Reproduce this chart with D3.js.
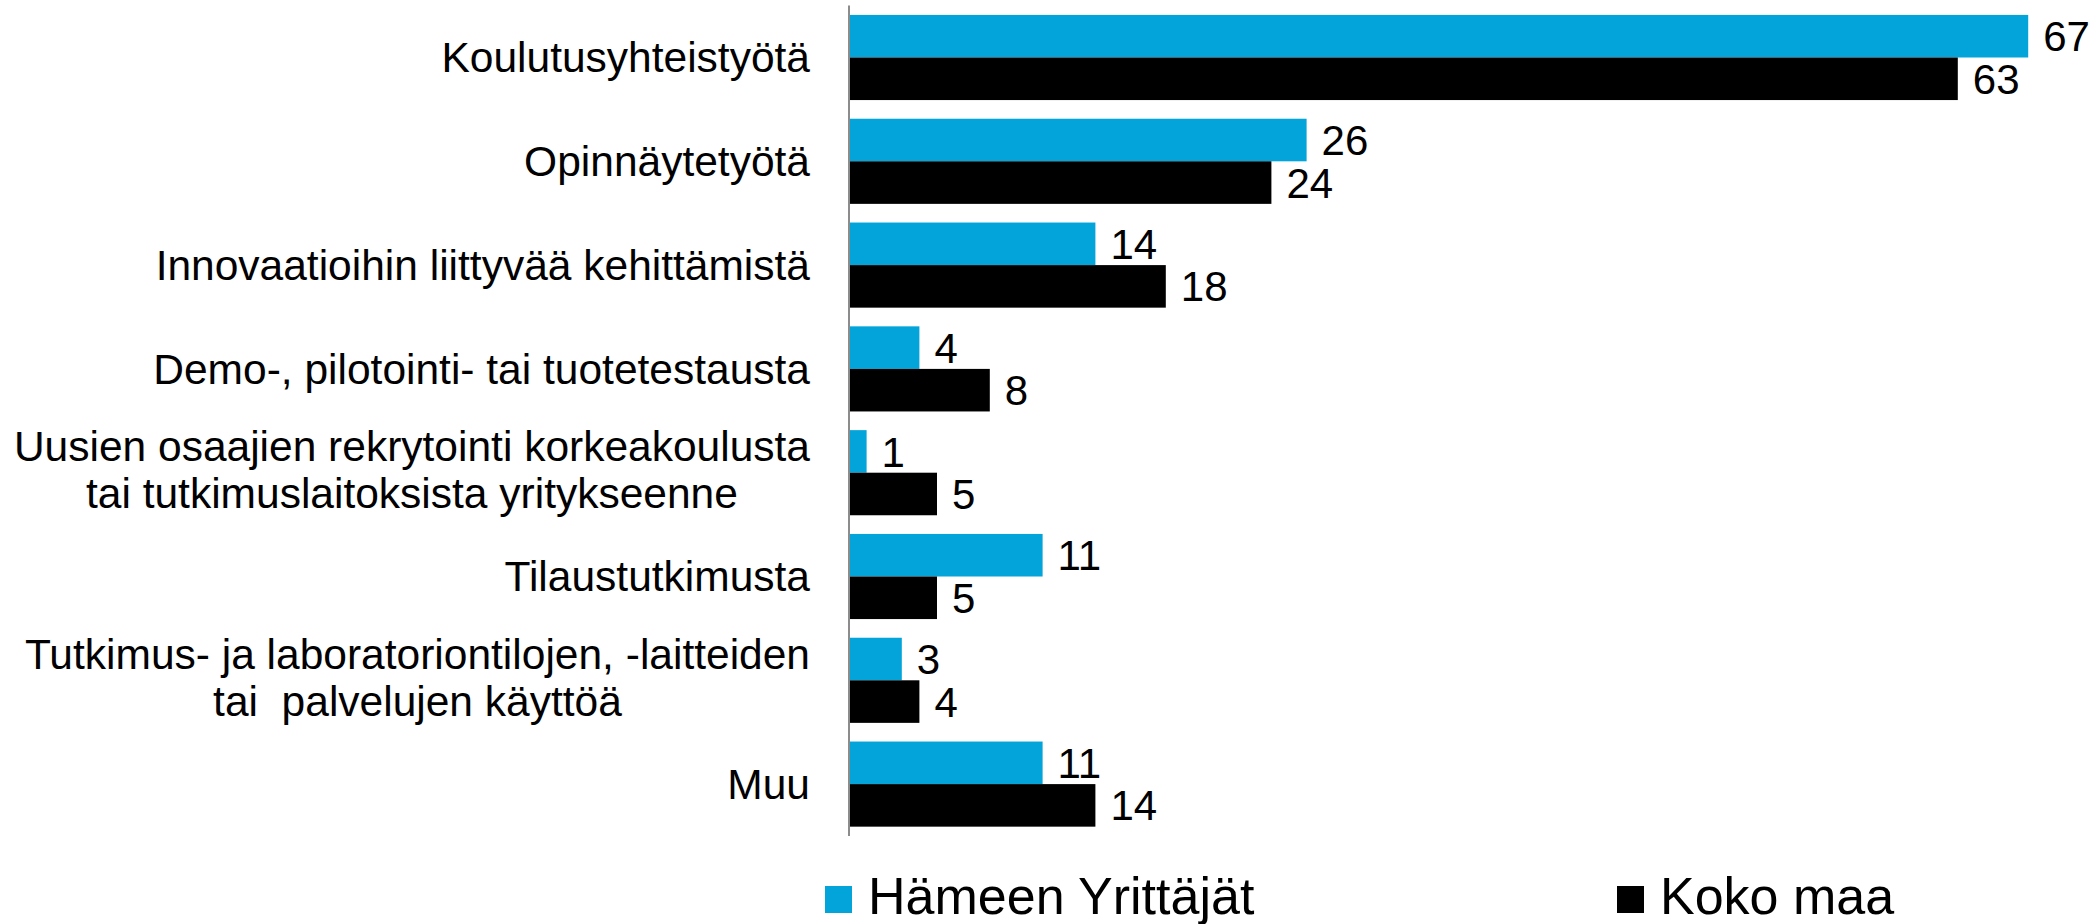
<!DOCTYPE html>
<html>
<head>
<meta charset="utf-8">
<script src="https://cdn.jsdelivr.net/npm/d3@7"></script>
<style>
  html, body { margin: 0; padding: 0; background: #ffffff; }
  svg { display: block; font-family: "Liberation Sans", Arial, sans-serif; }
</style>
</head>
<body>
<svg id="chart" width="2093" height="924"></svg>
<script>

// Data

const categories = [
  [ "Koulutusyhteistyötä" ],
  [ "Opinnäytetyötä" ],
  [ "Innovaatioihin liittyvää kehittämistä" ],
  [ "Demo-, pilotointi- tai tuotetestausta" ],
  [ "Uusien osaajien rekrytointi korkeakoulusta", "tai tutkimuslaitoksista yritykseenne" ],
  [ "Tilaustutkimusta" ],
  [ "Tutkimus- ja laboratoriontilojen, -laitteiden", "tai  palvelujen käyttöä" ],
  [ "Muu" ]
];

const seriesNames = [ "Hämeen Yrittäjät", "Koko maa" ];
const hameValues = [ 67, 26, 14, 4, 1, 11, 3, 11 ];
const kokoMaaValues = [ 63, 24, 18, 8, 5, 5, 4, 14 ];
const seriesColors = [ "#02a4da", "#000000" ];

const xMax = 70;

// Scales

const svg = d3.select( "#chart" );

const axisX = 849;

const x = d3.scaleLinear()
  .domain( [ 0, xMax ] )
  .range( [ axisX, axisX + xMax * 17.6 ] );

const y = d3.scaleBand()
  .domain( d3.range( categories.length ) )
  .range( [ 5.6, 836 ] )
  .paddingInner( 0.18 )
  .paddingOuter( 0.09 );

const ySeries = d3.scaleBand()
  .domain( d3.range( seriesNames.length ) )
  .range( [ 0, y.bandwidth() ] );

const rows = categories.map( ( c, i ) => ( {
  index: i,
  values: [ hameValues[ i ], kokoMaaValues[ i ] ]
} ) );

// Bars

const groups = svg.selectAll( "g.group" )
  .data( rows )
  .enter().append( "g" )
    .attr( "class", "group" )
    .attr( "transform", d => "translate(0," + y( d.index ) + ")" );

groups.selectAll( "rect" )
  .data( d => d.values.map( ( v, s ) => ( { v: v, s: s } ) ) )
  .enter().append( "rect" )
    .attr( "x", x( 0 ) )
    .attr( "y", d => ySeries( d.s ) )
    .attr( "width", d => x( d.v ) - x( 0 ) )
    .attr( "height", ySeries.bandwidth() )
    .attr( "fill", d => seriesColors[ d.s ] );

groups.selectAll( "text.value" )
  .data( d => d.values.map( ( v, s ) => ( { v: v, s: s } ) ) )
  .enter().append( "text" )
    .attr( "class", "value" )
    .attr( "x", d => x( d.v ) + 15 )
    .attr( "y", d => ySeries( d.s ) + ySeries.bandwidth() / 2 )
    .attr( "dy", "0.36em" )
    .attr( "fill", "#000" )
    .style( "font-size", "42px" )
    .text( d => d.v );

// Vertical axis line

svg.append( "line" )
  .attr( "x1", axisX )
  .attr( "x2", axisX )
  .attr( "y1", y.range()[ 0 ] )
  .attr( "y2", y.range()[ 1 ] )
  .attr( "stroke", "#8c8c8c" )
  .attr( "stroke-width", 2 );

// Category labels (multi-line ones centred on their longest line)

const labelRight = 810;
const lineHeight = 47;

categories.forEach( ( lines, i ) => {

  const cy = y( i ) + y.bandwidth() / 2 - ( lines.length > 1 ? 3 : 0 );

  const label = svg.append( "text" )
    .attr( "class", "category" )
    .attr( "fill", "#000" )
    .style( "font-size", "42.5px" )
    .style( "white-space", "pre" );

  const spans = label.selectAll( "tspan" )
    .data( lines )
    .enter().append( "tspan" )
      .attr( "y", ( d, k ) => cy + ( k - ( lines.length - 1 ) / 2 ) * lineHeight )
      .attr( "dy", "0.35em" )
      .text( d => d );

  const widths = spans.nodes().map( n => n.getComputedTextLength() );
  const maxW = d3.max( widths );

  spans
    .attr( "x", labelRight - maxW / 2 )
    .attr( "text-anchor", "middle" );

} );

// Legend

const legendItems = [
  { name: seriesNames[ 0 ], color: seriesColors[ 0 ], x: 825 },
  { name: seriesNames[ 1 ], color: seriesColors[ 1 ], x: 1617 }
];

const legend = svg.selectAll( "g.legend" )
  .data( legendItems )
  .enter().append( "g" )
    .attr( "class", "legend" )
    .attr( "transform", d => "translate(" + d.x + ",0)" );

legend.append( "rect" )
  .attr( "x", 0 )
  .attr( "y", 886 )
  .attr( "width", 27 )
  .attr( "height", 27 )
  .attr( "fill", d => d.color );

legend.append( "text" )
  .attr( "x", 43 )
  .attr( "y", 914 )
  .attr( "fill", "#000" )
  .style( "font-size", "52px" )
  .text( d => d.name );

</script>
</body>
</html>
